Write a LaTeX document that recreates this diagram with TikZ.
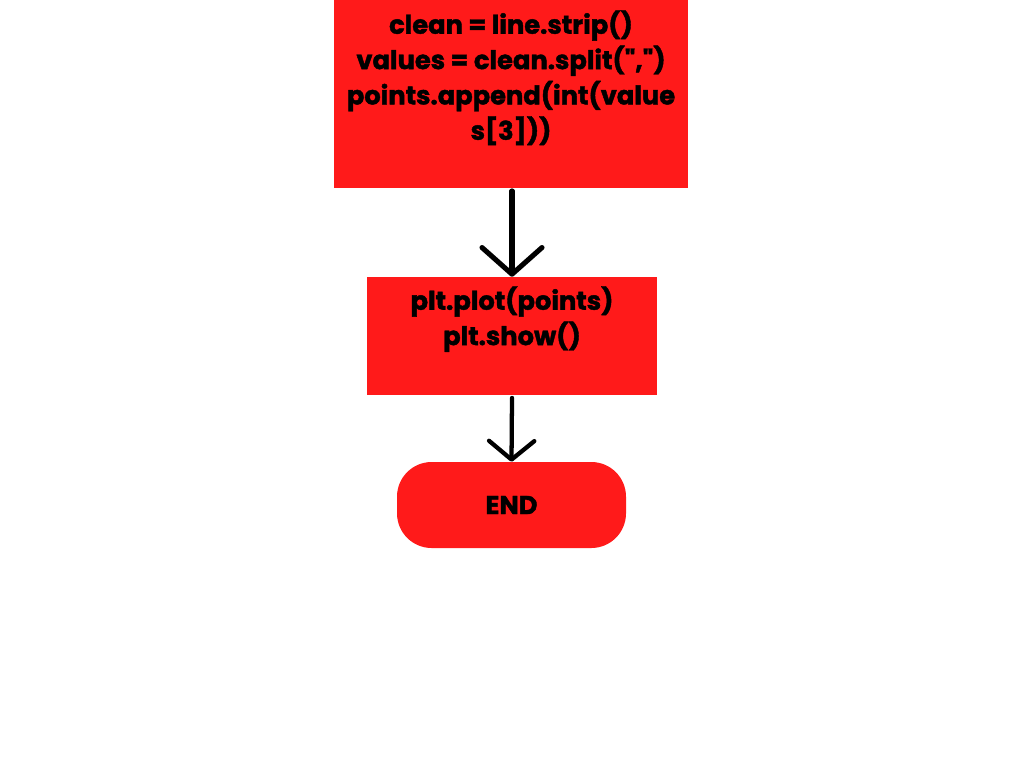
\documentclass[tikz,border=0pt]{standalone}
\usepackage{fontspec}
\setmainfont{Poppins}[BoldFeatures={FakeBold=1.6}]
\usetikzlibrary{arrows.meta}
\definecolor{boxred}{HTML}{FF1A1A}
\newcommand{\dq}{\XeTeXglyph\XeTeXglyphindex "quotedbl" }
\tikzset{
  redbox/.style={fill=boxred, draw=none, inner sep=0pt},
  code/.style={font=\fontsize{19.3}{26.5}\selectfont\bfseries, align=center, inner sep=0pt},
  flow/.style={line width=3.8pt, line cap=round}
}

\begin{document}
\begin{tikzpicture}[x=0.75pt, y=-0.75pt]
\def\cx{512}
%frame
\useasboundingbox[fill=white] (0,0) rectangle (1024,768);
%boxes
\node[redbox, minimum width=354*0.75pt, minimum height=188*0.75pt] (read) at (511, 94) {};
\node[redbox, minimum width=290*0.75pt, minimum height=118*0.75pt] (plot) at (\cx, 336) {};
\node[redbox, rounded corners=26pt, minimum width=229*0.75pt, minimum height=86*0.75pt] (end) at (511.5, 505) {};
%texts
\node[code, anchor=north] (readtxt) at (511, 10) {clean = line.strip()\\values = clean.split(\dq,\dq)\\points.append(int(value\\s[3]))};
\node[code, anchor=north] (plottxt) at (\cx, 286) {plt.plot(points)\\plt.show()};
\node[code] (endtxt) at (end.center) {END};
%arrows
\draw[flow, -{Straight Barb[length=20pt, width=45pt, round]}] ([yshift=-2pt]read.south -| plot.north) -- (plot.north);
\draw[flow, line width=3.2pt, -{Straight Barb[length=14pt, width=34pt, round]}] ([yshift=-2pt]plot.south) -- (end.north);
\end{tikzpicture}
\end{document}
